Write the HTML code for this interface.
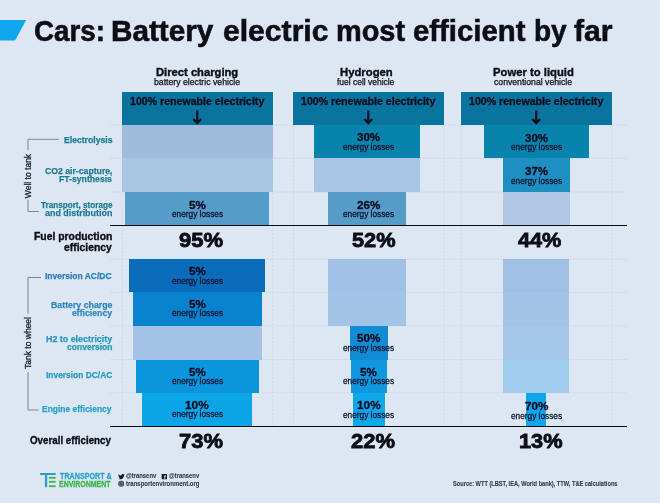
<!DOCTYPE html>
<html><head><meta charset="utf-8"><title>Cars: Battery electric most efficient by far</title>
<style>
html,body{margin:0;padding:0}
body{width:660px;height:503px;background:#dde6f3;position:relative;overflow:hidden;font-family:"Liberation Sans",sans-serif}
.r{position:absolute}
#tx{position:absolute;left:0;top:0;width:660px;height:503px;will-change:transform}
.t{position:absolute;white-space:nowrap;line-height:1;transform-origin:0 0;font-family:"Liberation Sans",sans-serif}
.b{font-weight:700}
svg{position:absolute;left:0;top:0}
</style></head><body>
<svg width="660" height="503" viewBox="0 0 660 503">
<polygon points="0,19.9 26.2,19.9 15.1,40.6 0,40.6" fill="#10a7ef"/>
<g stroke="#cfd9ea" stroke-width="0.8" fill="none">
<path d="M110 125H627M110 158.400H627M110 192H627M110 259.200H627M110 292.400H627M110 326H627M110 359.600H627M110 392.900H627"/>
</g>
<g stroke="#c9d4e6" stroke-width="0.8" stroke-dasharray="2 1.600" fill="none">
<path d="M122.300 125V425M272.700 125V425M293.500 125V425M443.800 125V425M461.300 125V425M611.700 125V425"/>
</g>
</svg>
<div class="r" style="left:122.0px;top:91.8px;width:151.0px;height:33.2px;background:#09759f"></div>
<div class="r" style="left:122.0px;top:125.0px;width:151.0px;height:33.4px;background:#a1bcda"></div>
<div class="r" style="left:122.0px;top:158.4px;width:151.0px;height:33.6px;background:#a9c6e3"></div>
<div class="r" style="left:125.3px;top:192.0px;width:143.7px;height:32.6px;background:#559cc9"></div>
<div class="r" style="left:129.3px;top:259.2px;width:136.1px;height:33.2px;background:#0a6cba"></div>
<div class="r" style="left:132.5px;top:292.4px;width:129.5px;height:33.6px;background:#0983d0"></div>
<div class="r" style="left:132.5px;top:326.0px;width:129.3px;height:33.6px;background:#a3c2e6"></div>
<div class="r" style="left:135.9px;top:359.6px;width:122.9px;height:33.3px;background:#0b95dc"></div>
<div class="r" style="left:141.8px;top:392.9px;width:110.7px;height:32.7px;background:#0ca5e8"></div>
<div class="r" style="left:293.2px;top:91.8px;width:151.0px;height:33.2px;background:#09759f"></div>
<div class="r" style="left:314.2px;top:125.0px;width:106.1px;height:33.4px;background:#0883ac"></div>
<div class="r" style="left:314.2px;top:158.4px;width:106.1px;height:33.6px;background:#aac5e3"></div>
<div class="r" style="left:328.0px;top:192.0px;width:78.4px;height:32.6px;background:#559cc9"></div>
<div class="r" style="left:328.0px;top:259.2px;width:78.0px;height:33.2px;background:#a1c0e5"></div>
<div class="r" style="left:328.0px;top:292.4px;width:78.0px;height:33.6px;background:#a4c4e7"></div>
<div class="r" style="left:349.8px;top:326.0px;width:37.9px;height:33.6px;background:#128dd5"></div>
<div class="r" style="left:350.6px;top:359.6px;width:36.2px;height:33.3px;background:#1098de"></div>
<div class="r" style="left:352.7px;top:392.9px;width:32.3px;height:32.7px;background:#10a6ea"></div>
<div class="r" style="left:461.0px;top:91.8px;width:151.0px;height:33.2px;background:#09759f"></div>
<div class="r" style="left:483.8px;top:125.0px;width:105.6px;height:33.4px;background:#0883ac"></div>
<div class="r" style="left:503.0px;top:158.4px;width:66.6px;height:33.6px;background:#1e8fc2"></div>
<div class="r" style="left:503.0px;top:192.0px;width:66.6px;height:32.6px;background:#b0c8e6"></div>
<div class="r" style="left:503.3px;top:259.2px;width:66.2px;height:33.2px;background:#a0bfe5"></div>
<div class="r" style="left:503.3px;top:292.4px;width:66.2px;height:33.6px;background:#a3c3e7"></div>
<div class="r" style="left:503.3px;top:326.0px;width:66.2px;height:33.6px;background:#a5c8e9"></div>
<div class="r" style="left:503.3px;top:359.6px;width:66.2px;height:33.3px;background:#a1cdf0"></div>
<div class="r" style="left:526.4px;top:392.9px;width:20.1px;height:32.7px;background:#10a6ea"></div>
<div class="r" style="left:110.0px;top:224.6px;width:517.0px;height:1.9px;background:#0a0a0a"></div>
<div class="r" style="left:110.0px;top:425.5px;width:517.0px;height:1.9px;background:#0a0a0a"></div>
<svg width="660" height="503" viewBox="0 0 660 503">
<g stroke="#07101c" stroke-width="2.2" fill="none" stroke-linecap="butt" stroke-linejoin="miter">
<path d="M197.2 110.4V123M193.3 118.9L197.2 123.2L201.1 118.9"/>
<path d="M368.3 110.4V123M364.4 118.9L368.3 123.2L372.2 118.9"/>
<path d="M536.2 110.4V123M532.3 118.9L536.2 123.2L540.1 118.9"/>
</g>
<g stroke="#6e737d" stroke-width="0.85" fill="none">
<path d="M58.7 139.3H28V150"/>
<path d="M28 199.5V211.5H39"/>
<path d="M41 277.5H28V313.5"/>
<path d="M28 372V410H38.5"/>
</g>
<!-- T&E logo -->
<g>
<rect x="40.1" y="473" width="15.6" height="2" fill="#2aa0c8"/>
<rect x="44.9" y="473" width="2.3" height="14.2" fill="#2aa0c8"/>
<rect x="48.9" y="476.9" width="6.7" height="1.8" fill="#3bb54a"/>
<rect x="48.9" y="480.9" width="6.7" height="1.8" fill="#3bb54a"/>
<rect x="48.9" y="485.3" width="6.7" height="1.8" fill="#3bb54a"/>
</g>
<!-- twitter -->
<path transform="translate(118.2,474) scale(0.275)" fill="#141920" d="M23.6 2.3c-.9.4-1.8.7-2.8.8 1-.6 1.800-1.600 2.100-2.700-.9.600-2 1-3.100 1.200C18.900.6 17.600 0 16.200 0c-2.700 0-4.800 2.200-4.800 4.800 0 .4 0 .800.100 1.100C7.500 5.700 3.900 3.800 1.600.9 1.200 1.600 1 2.400 1 3.300c0 1.700.900 3.200 2.200 4-.8 0-1.500-.2-2.200-.6v.1c0 2.300 1.700 4.300 3.900 4.700-.4.100-.8.200-1.300.2-.3 0-.6 0-.9-.1.600 1.900 2.400 3.300 4.500 3.400-1.700 1.300-3.700 2.100-6 2.100-.4 0-.8 0-1.200-.1 2.100 1.400 4.700 2.200 7.400 2.200 8.900 0 13.700-7.400 13.700-13.700v-.6c.9-.7 1.800-1.500 2.500-2.600z"/>
<!-- facebook -->
<g>
<rect x="161.7" y="474" width="5.3" height="5.3" rx="0.4" fill="#141920"/>
<path d="M165.25 479.3v-2h.65l.1-.75h-.75v-.5c0-.22.06-.36.37-.36h.4v-.68c-.07-.01-.3-.03-.58-.03-.57 0-.96.350-.96.990v.560h-.650v.75h.650v2z" fill="#dde6f3"/>
</g>
<!-- globe -->
<g>
<circle cx="121.2" cy="483.8" r="3" fill="#363c48"/>
<g stroke="#9aa3b4" stroke-width="0.35" fill="none">
<ellipse cx="121.2" cy="483.8" rx="1.3" ry="3"/>
<path d="M118.2 483.8H124.2M118.700 482.300H123.700M118.700 485.300H123.700"/>
</g>
</g>
</svg>
<div id="tx">
<div class="t b" style="left:34.41px;top:16.00px;font-size:30px;color:#0d0d14;-webkit-text-stroke:0.6px #0d0d14;transform:scaleX(0.9246)">Cars:</div>
<div class="t b" style="left:111.14px;top:16.00px;font-size:30px;color:#0d0d14;-webkit-text-stroke:0.6px #0d0d14;transform:scaleX(0.9903)">Battery</div>
<div class="t b" style="left:222.66px;top:16.00px;font-size:30px;color:#0d0d14;-webkit-text-stroke:0.6px #0d0d14;transform:scaleX(1.0040)">electric</div>
<div class="t b" style="left:335.78px;top:16.00px;font-size:30px;color:#0d0d14;-webkit-text-stroke:0.6px #0d0d14;transform:scaleX(0.9637)">most</div>
<div class="t b" style="left:413.38px;top:16.00px;font-size:30px;color:#0d0d14;-webkit-text-stroke:0.6px #0d0d14;transform:scaleX(0.9779)">efficient</div>
<div class="t b" style="left:533.53px;top:16.00px;font-size:30px;color:#0d0d14;-webkit-text-stroke:0.6px #0d0d14;transform:scaleX(0.9344)">by</div>
<div class="t b" style="left:573.83px;top:16.00px;font-size:30px;color:#0d0d14;-webkit-text-stroke:0.6px #0d0d14;transform:scaleX(1.0064)">far</div>
<div class="t b" style="left:156.42px;top:66.00px;font-size:11.6px;color:#0d0d14;-webkit-text-stroke:0.4px #0d0d14;transform:scaleX(0.9667)">Direct charging</div>
<div class="t" style="left:154.13px;top:78.00px;font-size:8.8px;color:#0d0d16;-webkit-text-stroke:0.25px #0d0d16;transform:scaleX(0.9883)">battery electric vehicle</div>
<div class="t b" style="left:339.51px;top:66.00px;font-size:11.6px;color:#0d0d14;-webkit-text-stroke:0.4px #0d0d14;transform:scaleX(0.9746)">Hydrogen</div>
<div class="t" style="left:337.32px;top:78.00px;font-size:8.8px;color:#0d0d16;-webkit-text-stroke:0.25px #0d0d16;transform:scaleX(0.9608)">fuel cell vehicle</div>
<div class="t b" style="left:493.11px;top:66.00px;font-size:11.6px;color:#0d0d14;-webkit-text-stroke:0.4px #0d0d14;transform:scaleX(0.9727)">Power to liquid</div>
<div class="t" style="left:494.33px;top:78.00px;font-size:8.8px;color:#0d0d16;-webkit-text-stroke:0.25px #0d0d16;transform:scaleX(0.9847)">conventional vehicle</div>
<div class="t b" style="left:129.82px;top:97.00px;font-size:10px;color:#070d20;-webkit-text-stroke:0.3px #070d20;transform:scaleX(1.0595)">100% renewable electricity</div>
<div class="t b" style="left:300.92px;top:97.00px;font-size:10px;color:#070d20;-webkit-text-stroke:0.3px #070d20;transform:scaleX(1.0595)">100% renewable electricity</div>
<div class="t b" style="left:468.52px;top:97.00px;font-size:10px;color:#070d20;-webkit-text-stroke:0.3px #070d20;transform:scaleX(1.0595)">100% renewable electricity</div>
<div class="t b" style="left:188.98px;top:201.00px;font-size:10.2px;color:#070d20;-webkit-text-stroke:0.3px #070d20;transform:scaleX(1.1401)">5%</div>
<div class="t" style="left:171.84px;top:210.00px;font-size:8.5px;color:#0a1530;-webkit-text-stroke:0.28px #0a1530;transform:scaleX(0.9737)">energy losses</div>
<div class="t b" style="left:188.98px;top:267.00px;font-size:10.2px;color:#070d20;-webkit-text-stroke:0.3px #070d20;transform:scaleX(1.1401)">5%</div>
<div class="t" style="left:171.84px;top:277.00px;font-size:8.5px;color:#0a1530;-webkit-text-stroke:0.28px #0a1530;transform:scaleX(0.9737)">energy losses</div>
<div class="t b" style="left:188.98px;top:300.00px;font-size:10.2px;color:#070d20;-webkit-text-stroke:0.3px #070d20;transform:scaleX(1.1401)">5%</div>
<div class="t" style="left:171.84px;top:309.00px;font-size:8.5px;color:#0a1530;-webkit-text-stroke:0.28px #0a1530;transform:scaleX(0.9737)">energy losses</div>
<div class="t b" style="left:188.98px;top:368.00px;font-size:10.2px;color:#070d20;-webkit-text-stroke:0.3px #070d20;transform:scaleX(1.1401)">5%</div>
<div class="t" style="left:171.84px;top:377.00px;font-size:8.5px;color:#0a1530;-webkit-text-stroke:0.28px #0a1530;transform:scaleX(0.9737)">energy losses</div>
<div class="t b" style="left:185.38px;top:401.00px;font-size:10.2px;color:#070d20;-webkit-text-stroke:0.3px #070d20;transform:scaleX(1.1590)">10%</div>
<div class="t" style="left:171.84px;top:410.00px;font-size:8.5px;color:#0a1530;-webkit-text-stroke:0.28px #0a1530;transform:scaleX(0.9737)">energy losses</div>
<div class="t b" style="left:357.24px;top:133.00px;font-size:10.2px;color:#070d20;-webkit-text-stroke:0.3px #070d20;transform:scaleX(1.1361)">30%</div>
<div class="t" style="left:343.24px;top:143.00px;font-size:8.5px;color:#0a1530;-webkit-text-stroke:0.28px #0a1530;transform:scaleX(0.9737)">energy losses</div>
<div class="t b" style="left:357.13px;top:201.00px;font-size:10.2px;color:#070d20;-webkit-text-stroke:0.3px #070d20;transform:scaleX(1.1417)">26%</div>
<div class="t" style="left:343.24px;top:210.00px;font-size:8.5px;color:#0a1530;-webkit-text-stroke:0.28px #0a1530;transform:scaleX(0.9737)">energy losses</div>
<div class="t b" style="left:357.13px;top:334.00px;font-size:10.2px;color:#070d20;-webkit-text-stroke:0.3px #070d20;transform:scaleX(1.1417)">50%</div>
<div class="t" style="left:343.24px;top:344.00px;font-size:8.5px;color:#0a1530;-webkit-text-stroke:0.28px #0a1530;transform:scaleX(0.9737)">energy losses</div>
<div class="t b" style="left:360.38px;top:368.00px;font-size:10.2px;color:#070d20;-webkit-text-stroke:0.3px #070d20;transform:scaleX(1.1401)">5%</div>
<div class="t" style="left:343.24px;top:377.00px;font-size:8.5px;color:#0a1530;-webkit-text-stroke:0.28px #0a1530;transform:scaleX(0.9737)">energy losses</div>
<div class="t b" style="left:356.78px;top:401.00px;font-size:10.2px;color:#070d20;-webkit-text-stroke:0.3px #070d20;transform:scaleX(1.1590)">10%</div>
<div class="t" style="left:343.24px;top:411.00px;font-size:8.5px;color:#0a1530;-webkit-text-stroke:0.28px #0a1530;transform:scaleX(0.9737)">energy losses</div>
<div class="t b" style="left:524.84px;top:134.00px;font-size:10.2px;color:#070d20;-webkit-text-stroke:0.3px #070d20;transform:scaleX(1.1361)">30%</div>
<div class="t" style="left:510.84px;top:143.00px;font-size:8.5px;color:#0a1530;-webkit-text-stroke:0.28px #0a1530;transform:scaleX(0.9737)">energy losses</div>
<div class="t b" style="left:524.84px;top:167.00px;font-size:10.2px;color:#070d20;-webkit-text-stroke:0.3px #070d20;transform:scaleX(1.1361)">37%</div>
<div class="t" style="left:510.84px;top:177.00px;font-size:8.5px;color:#0a1530;-webkit-text-stroke:0.28px #0a1530;transform:scaleX(0.9737)">energy losses</div>
<div class="t b" style="left:524.61px;top:402.00px;font-size:10.2px;color:#070d20;-webkit-text-stroke:0.3px #070d20;transform:scaleX(1.1474)">70%</div>
<div class="t" style="left:510.84px;top:412.00px;font-size:8.5px;color:#0a1530;-webkit-text-stroke:0.28px #0a1530;transform:scaleX(0.9737)">energy losses</div>
<div class="t b" style="left:178.87px;top:230.00px;font-size:20.2px;color:#0d0d14;-webkit-text-stroke:0.8px #0d0d14;transform:scaleX(1.0906)">95%</div>
<div class="t b" style="left:351.58px;top:230.00px;font-size:20.2px;color:#0d0d14;-webkit-text-stroke:0.8px #0d0d14;transform:scaleX(1.0780)">52%</div>
<div class="t b" style="left:518.01px;top:230.00px;font-size:20.2px;color:#0d0d14;-webkit-text-stroke:0.8px #0d0d14;transform:scaleX(1.0724)">44%</div>
<div class="t b" style="left:178.87px;top:431.00px;font-size:20.2px;color:#0d0d14;-webkit-text-stroke:0.8px #0d0d14;transform:scaleX(1.0859)">73%</div>
<div class="t b" style="left:351.17px;top:431.00px;font-size:20.2px;color:#0d0d14;-webkit-text-stroke:0.8px #0d0d14;transform:scaleX(1.0881)">22%</div>
<div class="t b" style="left:519.24px;top:431.00px;font-size:20.2px;color:#0d0d14;-webkit-text-stroke:0.8px #0d0d14;transform:scaleX(1.0791)">13%</div>
<div class="t b" style="left:63.54px;top:136.00px;font-size:9px;color:#1d7a93;-webkit-text-stroke:0.25px #1d7a93;transform:scaleX(0.9584)">Electrolysis</div>
<div class="t b" style="left:44.73px;top:167.00px;font-size:9px;color:#1d7a93;-webkit-text-stroke:0.25px #1d7a93;transform:scaleX(0.9644)">CO2 air-capture,</div>
<div class="t b" style="left:59.04px;top:175.00px;font-size:9px;color:#1d7a93;-webkit-text-stroke:0.25px #1d7a93;transform:scaleX(0.9621)">FT-synthesis</div>
<div class="t b" style="left:40.52px;top:201.00px;font-size:9px;color:#1d7a93;-webkit-text-stroke:0.25px #1d7a93;transform:scaleX(0.9041)">Transport, storage</div>
<div class="t b" style="left:44.83px;top:209.00px;font-size:9px;color:#1d7a93;-webkit-text-stroke:0.25px #1d7a93;transform:scaleX(0.9905)">and distribution</div>
<div class="t b" style="left:33.76px;top:232.00px;font-size:10.1px;color:#0d0d14;-webkit-text-stroke:0.35px #0d0d14;transform:scaleX(1.0267)">Fuel production</div>
<div class="t b" style="left:63.77px;top:243.00px;font-size:10.1px;color:#0d0d14;-webkit-text-stroke:0.35px #0d0d14;transform:scaleX(1.0252)">efficiency</div>
<div class="t b" style="left:45.05px;top:272.00px;font-size:9px;color:#2a7eb6;-webkit-text-stroke:0.25px #2a7eb6;transform:scaleX(0.9409)">Inversion AC/DC</div>
<div class="t b" style="left:50.54px;top:301.00px;font-size:9px;color:#2c86bc;-webkit-text-stroke:0.25px #2c86bc;transform:scaleX(0.9748)">Battery charge</div>
<div class="t b" style="left:71.63px;top:309.00px;font-size:9px;color:#2c86bc;-webkit-text-stroke:0.25px #2c86bc;transform:scaleX(0.9647)">efficiency</div>
<div class="t b" style="left:45.53px;top:335.00px;font-size:9px;color:#2499c1;-webkit-text-stroke:0.25px #2499c1;transform:scaleX(0.9870)">H2 to electricity</div>
<div class="t b" style="left:66.63px;top:343.00px;font-size:9px;color:#2499c1;-webkit-text-stroke:0.25px #2499c1;transform:scaleX(0.9480)">conversion</div>
<div class="t b" style="left:45.56px;top:371.00px;font-size:9px;color:#259bc4;-webkit-text-stroke:0.25px #259bc4;transform:scaleX(0.9338)">Inversion DC/AC</div>
<div class="t b" style="left:42.25px;top:405.00px;font-size:9px;color:#24a2cb;-webkit-text-stroke:0.25px #24a2cb;transform:scaleX(0.9380)">Engine efficiency</div>
<div class="t b" style="left:30.09px;top:436.00px;font-size:10.4px;color:#0d0d14;-webkit-text-stroke:0.35px #0d0d14;transform:scaleX(0.9408)">Overall efficiency</div>
<div class="t b" style="left:59.63px;top:472.00px;font-size:8.4px;color:#2aa6c8;-webkit-text-stroke:0.3px #2aa6c8;transform:scaleX(0.8553)">TRANSPORT &amp;</div>
<div class="t b" style="left:59.21px;top:480.00px;font-size:8.4px;color:#3bb54a;-webkit-text-stroke:0.3px #3bb54a;transform:scaleX(0.8328)">ENVIRONMENT</div>
<div class="t b" style="left:125.58px;top:473.00px;font-size:6.8px;color:#323844;-webkit-text-stroke:0.1px #323844;transform:scaleX(0.8651)">@transenv</div>
<div class="t b" style="left:168.78px;top:473.00px;font-size:6.8px;color:#323844;-webkit-text-stroke:0.1px #323844;transform:scaleX(0.8622)">@transenv</div>
<div class="t b" style="left:125.84px;top:481.00px;font-size:6.8px;color:#323844;-webkit-text-stroke:0.1px #323844;transform:scaleX(0.8804)">transportenvironment.org</div>
<div class="t b" style="left:452.66px;top:481.00px;font-size:6.7px;color:#323844;-webkit-text-stroke:0.1px #323844;transform:scaleX(0.8454)">Source: WTT (LBST, IEA, World bank), TTW, T&amp;E calculations</div>
<div class="t" style="left:28.600px;top:175.600px;font-size:9.200px;color:#1a1c22;-webkit-text-stroke:0.3px #1a1c22;transform:translate(-50%,-50%) rotate(-90deg) scaleX(0.925);transform-origin:50% 50%">Well to tank</div>
<div class="t" style="left:28.600px;top:343px;font-size:9.200px;color:#1a1c22;-webkit-text-stroke:0.3px #1a1c22;transform:translate(-50%,-50%) rotate(-90deg) scaleX(0.925);transform-origin:50% 50%">Tank to wheel</div>
</div>
</body></html>
